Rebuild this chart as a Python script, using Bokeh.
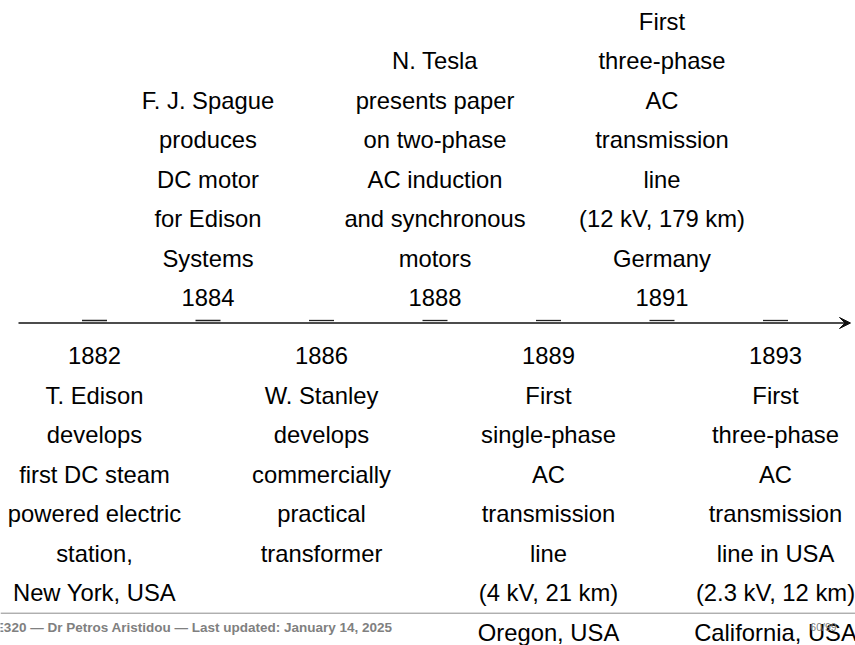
from bokeh.plotting import figure
from bokeh.models import Range1d, Arrow, VeeHead, Label, Span, ColumnDataSource
from bokeh.core.properties import value
from bokeh.embed import file_html
from bokeh.resources import INLINE

# ---------------- data ----------------
years = ["1882", "1884", "1886", "1888", "1889", "1891", "1893"]
sides = ["below", "above", "below", "above", "below", "above", "below"]
desc_1882 = ["T. Edison", "develops", "first DC steam", "powered electric", "station,", "New York, USA"]
desc_1884 = ["F. J. Spague", "produces", "DC motor", "for Edison", "Systems"]
desc_1886 = ["W. Stanley", "develops", "commercially", "practical", "transformer"]
desc_1888 = ["N. Tesla", "presents paper", "on two-phase", "AC induction", "and synchronous", "motors"]
desc_1889 = ["First", "single-phase", "AC", "transmission", "line", "(4 kV, 21 km)", "Oregon, USA"]
desc_1891 = ["First", "three-phase", "AC", "transmission", "line", "(12 kV, 179 km)", "Germany"]
desc_1893 = ["First", "three-phase", "AC", "transmission", "line in USA", "(2.3 kV, 12 km)", "California, USA"]
descriptions = [desc_1882, desc_1884, desc_1886, desc_1888, desc_1889, desc_1891, desc_1893]

footer_text = "EE320 \u2014 Dr Petros Aristidou \u2014 Last updated: January 14, 2025"
page_text = "60/99"

# ---------------- layout constants (pixels) ----------------
W, H = 855, 645
AXIS_Y = 322.5        # picture y of the timeline
X0, DX = 94.0, 113.5  # picture x of first event, spacing between events
LINE = 39.5
ABOVE_GAP = 25.5
BELOW_GAP = 32.5
FONT = "Liberation Sans"

p = figure(width=W, height=H, output_backend="svg", toolbar_location=None,
           x_range=Range1d((0 - X0) / DX, (W - X0) / DX),
           y_range=Range1d(AXIS_Y - H, AXIS_Y),
           min_border=0)
p.axis.visible = False
p.grid.visible = False
p.outline_line_color = None
p.background_fill_color = "white"
p.border_fill_color = "white"

# texts
xs, ys, texts = [], [], []
for i, (yr, side, desc) in enumerate(zip(years, sides, descriptions)):
    if side == "above":
        rows = [yr] + list(reversed(desc))
        for r, t in enumerate(rows):
            xs.append(i); ys.append(ABOVE_GAP + LINE * r); texts.append(t)
    else:
        rows = [yr] + list(desc)
        for r, t in enumerate(rows):
            xs.append(i); ys.append(-(BELOW_GAP + LINE * r)); texts.append(t)

src = ColumnDataSource(dict(x=xs, y=ys, text=texts))
p.text(x="x", y="y", text="text", source=src, text_align="center",
       text_baseline="middle", text_font=value(FONT), text_font_size="23.8px",
       text_color="black")

# tick marks
idx = list(range(len(years)))
half = 12.5 / DX
p.segment(x0=[i - half for i in idx], x1=[i + half for i in idx],
          y0=[2.5] * len(idx), y1=[2.5] * len(idx), line_color="#222222", line_width=1.3)

# timeline arrow
p.add_layout(Arrow(end=VeeHead(size=11, fill_color="#111111", line_color="#111111", line_width=1),
                   x_start=(18 - X0) / DX, y_start=0, x_end=(850 - X0) / DX, y_end=0,
                   line_width=1.3, line_color="#111111"))

# footer
p.add_layout(Span(location=AXIS_Y - 612.7, dimension="width", line_color="#8c8c8c", line_width=1))
p.add_layout(Label(x=392, y=H - 627, x_units="screen", y_units="screen",
                   text=footer_text, text_align="right", text_baseline="middle",
                   text_font=FONT, text_font_style="bold", text_font_size="13.5px",
                   text_color="#808080"))
p.add_layout(Label(x=823, y=H - 626, x_units="screen", y_units="screen",
                   text=page_text, text_align="center", text_baseline="middle",
                   text_font=FONT, text_font_size="10.5px", text_color="#808080"))

open("out.html", "w").write(file_html(p, INLINE))
